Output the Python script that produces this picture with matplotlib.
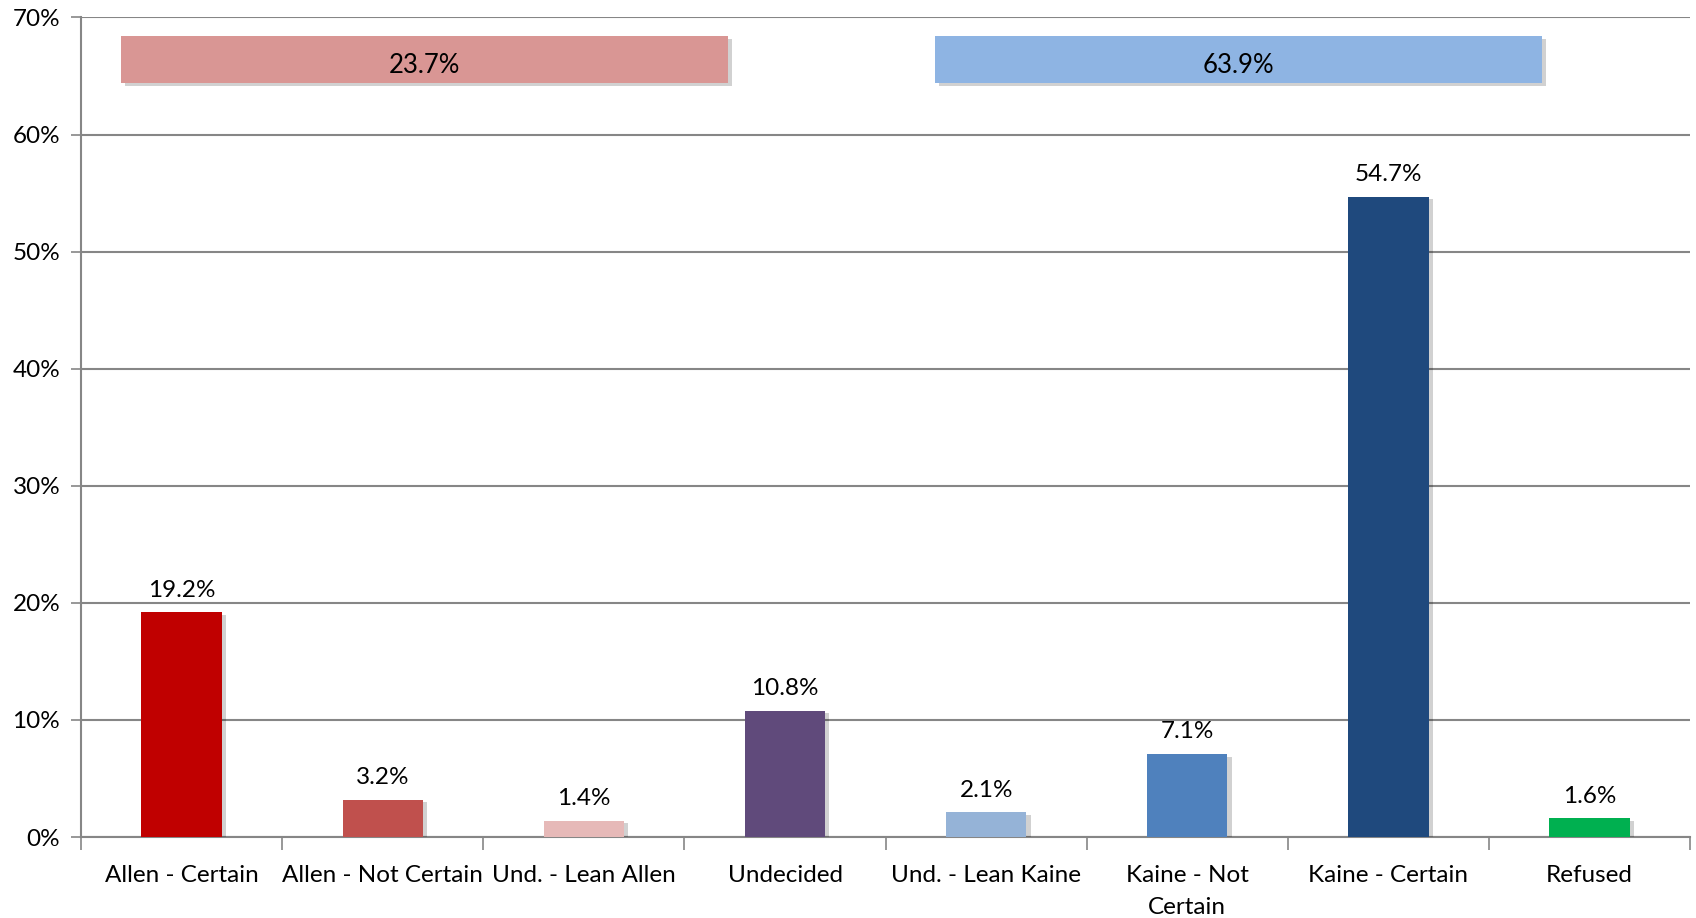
import matplotlib.pyplot as plt
import matplotlib.patheffects as pe
from matplotlib.patches import Rectangle
from matplotlib.ticker import FixedLocator, PercentFormatter

categories = ["Allen - Certain", "Allen - Not Certain", "Und. - Lean Allen", "Undecided",
              "Und. - Lean Kaine", "Kaine - Not\nCertain", "Kaine - Certain", "Refused"]
values = [19.2, 3.2, 1.4, 10.8, 2.1, 7.1, 54.7, 1.6]
colors = ["#C00000", "#C0504D", "#E6B9B8", "#604A7B", "#95B3D7", "#4F81BD", "#1F497D", "#00B050"]

# totals shown in the two banners at the top
allen_total = 23.7
kaine_total = 63.9

plt.rcParams['font.family'] = ['Lato', 'DejaVu Sans']

fig = plt.figure(figsize=(16.96, 9.18), dpi=100)
ax = fig.add_axes([0.0478, 0.0882, 0.9487, 0.8928])

x = range(len(categories))
shadow = [pe.SimplePatchShadow(offset=(3, -2), shadow_rgbFace="#000000", alpha=0.18), pe.Normal()]
bars = ax.bar(x, values, width=0.4, color=colors, zorder=3)
for b in bars:
    b.set_path_effects(shadow)

for i, v in enumerate(values):
    ax.text(i, v + 1.0, "%.1f%%" % v, ha="center", va="bottom", fontsize=17.5)

# banners
for x0, x1, col, tot in [(-0.30, 2.716, "#D99694", allen_total), (3.747, 6.763, "#8EB4E3", kaine_total)]:
    r = Rectangle((x0, 64.4), x1 - x0, 4.0, facecolor=col, edgecolor="none", zorder=3)
    r.set_path_effects(shadow)
    ax.add_patch(r)
    ax.text((x0 + x1) / 2, 66.1, "%.1f%%" % tot, ha="center", va="center_baseline", fontsize=18.5, zorder=4)

ax.set_xlim(-0.5, 7.5)
ax.set_ylim(0, 70)
ax.set_yticks(range(0, 71, 10))
ax.yaxis.set_major_formatter(PercentFormatter(decimals=0))
ax.yaxis.grid(True, color="#868686", linewidth=1.5, zorder=0)

ax.xaxis.set_major_locator(FixedLocator([i - 0.5 for i in range(len(categories) + 1)]))
ax.xaxis.set_minor_locator(FixedLocator(list(x)))
ax.set_xticklabels([])
ax.set_xticklabels(categories, minor=True, linespacing=1.65)
ax.tick_params(axis="x", which="major", length=9, width=1.2, color="#868686")
ax.tick_params(axis="x", which="minor", length=0, pad=20, labelsize=17.5)
ax.tick_params(axis="y", length=7, width=1.2, color="#868686", labelsize=17.5, pad=8)

for s in ["top", "right"]:
    ax.spines[s].set_visible(False)
for s in ["left", "bottom"]:
    ax.spines[s].set_color("#868686")
    ax.spines[s].set_linewidth(1.5)

fig.savefig("out.png", dpi=100)
